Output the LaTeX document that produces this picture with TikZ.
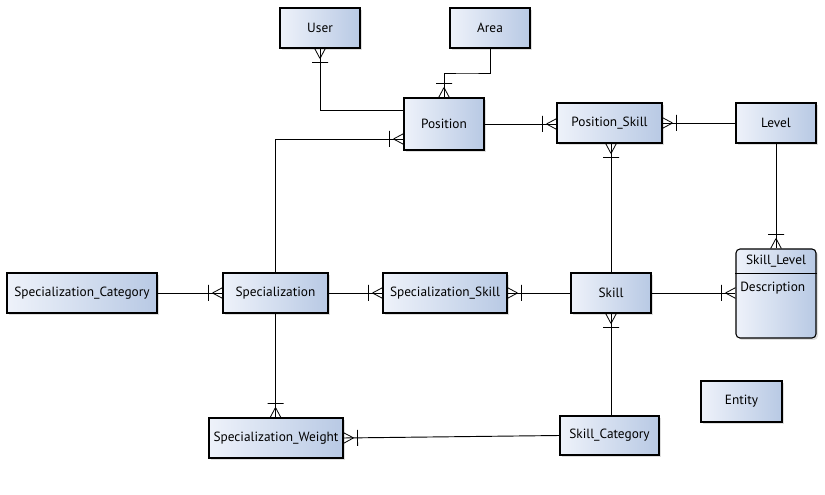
\documentclass[tikz,border=0pt]{standalone}
\usepackage{fontspec}
\setmainfont{PT Sans}
\usetikzlibrary{shadows,decorations.markings,calc}
\definecolor{entlight}{RGB}{238,242,250}
\definecolor{entdark}{RGB}{184,201,228}
\begin{document}
\begin{tikzpicture}[x=0.75pt, y=-0.75pt, font=\fontsize{10}{12}\selectfont]

\tikzset{
  entity/.style={draw, line width=0.8pt, left color=entlight, right color=entdark,
    drop shadow={shadow xshift=1.5pt, shadow yshift=-1.5pt, opacity=0.25},
    minimum height=30pt, inner sep=0pt},
  rel/.style={line width=0.7pt},
  crowend/.style={rel, postaction={decorate, decoration={markings,
    mark=at position 1 with {\draw[line width=0.6pt] (-7.5pt,0pt) -- (0pt,4pt)
      (-7.5pt,0pt) -- (0pt,-4pt) (-10.5pt,-6pt) -- (-10.5pt,6pt);}}}}
}

\useasboundingbox (0,0) rectangle (825,495);

% Top row
\node[entity, minimum width=60pt] (user) at (320,28) {User};
\node[entity, minimum width=60pt] (area) at (490,28) {Area};
\node[entity, minimum width=60pt, minimum height=39pt] (pos) at (444,124) {Position};
\node[entity, minimum width=78.75pt] (posskill) at (609.5,123) {Position\_Skill};
\node[entity, minimum width=60pt] (level) at (776,123) {Level};

% Middle row
\node[entity, minimum width=112.5pt] (speccat) at (82,293) {Specialization\_Category};
\node[entity, minimum width=78.75pt] (spec) at (275.5,293) {Specialization};
\node[entity, minimum width=93pt] (specskill) at (445,293) {Specialization\_Skill};
\node[entity, minimum width=60pt] (skill) at (611,293) {Skill};

% Skill_Level
\node[entity, rounded corners=3pt, minimum width=60pt, minimum height=66.75pt] (sklevel) at (776,293.5) {};
\draw[line width=0.6pt] ([yshift=-18.75pt]sklevel.north west) -- ([yshift=-18.75pt]sklevel.north east);
\node (sklhead) at (776,261.5) {Skill\_Level};
\node[anchor=west, inner sep=0pt] (skldesc) at (740,288) {Description};

% Bottom row
\node[entity, minimum width=100.5pt] (specweight) at (276,438) {Specialization\_Weight};
\node[entity, minimum width=74.25pt, minimum height=29.25pt] (skcat) at (609.5,435.5) {Skill\_Category};
\node[entity, minimum width=60.75pt, minimum height=30.75pt] (legend) at (741.5,401.5) {Entity};

% Relations
\draw[crowend] ([yshift=10.5pt]pos.west) -| (user.south);
\draw[crowend] (area.south) |- ($(area.south)!0.5!(pos.north)$) -| (pos.north);
\draw[crowend] (pos.east) -- (pos.east -| posskill.west);
\draw[crowend] (level.west) -- (level.west -| posskill.east);
\draw[crowend] (skill.north) -- (skill.north |- posskill.south);
\draw[crowend] (level.south) -- (sklevel.north);
\draw[crowend] (skill.east) -- (skill.east -| sklevel.west);
\draw[crowend] (skill.west) -- (specskill.east);
\draw[crowend] (spec.east) -- (specskill.west);
\draw[crowend] (speccat.east) -- (spec.west);
\draw[crowend] (spec.north) |- ([yshift=-11.25pt]pos.west);
\draw[crowend] (spec.south) -- (spec.south |- specweight.north);
\draw[crowend] (skcat.west) -- (specweight.east);
\draw[crowend] (skill.south |- skcat.north) -- (skill.south);

\end{tikzpicture}
\end{document}
